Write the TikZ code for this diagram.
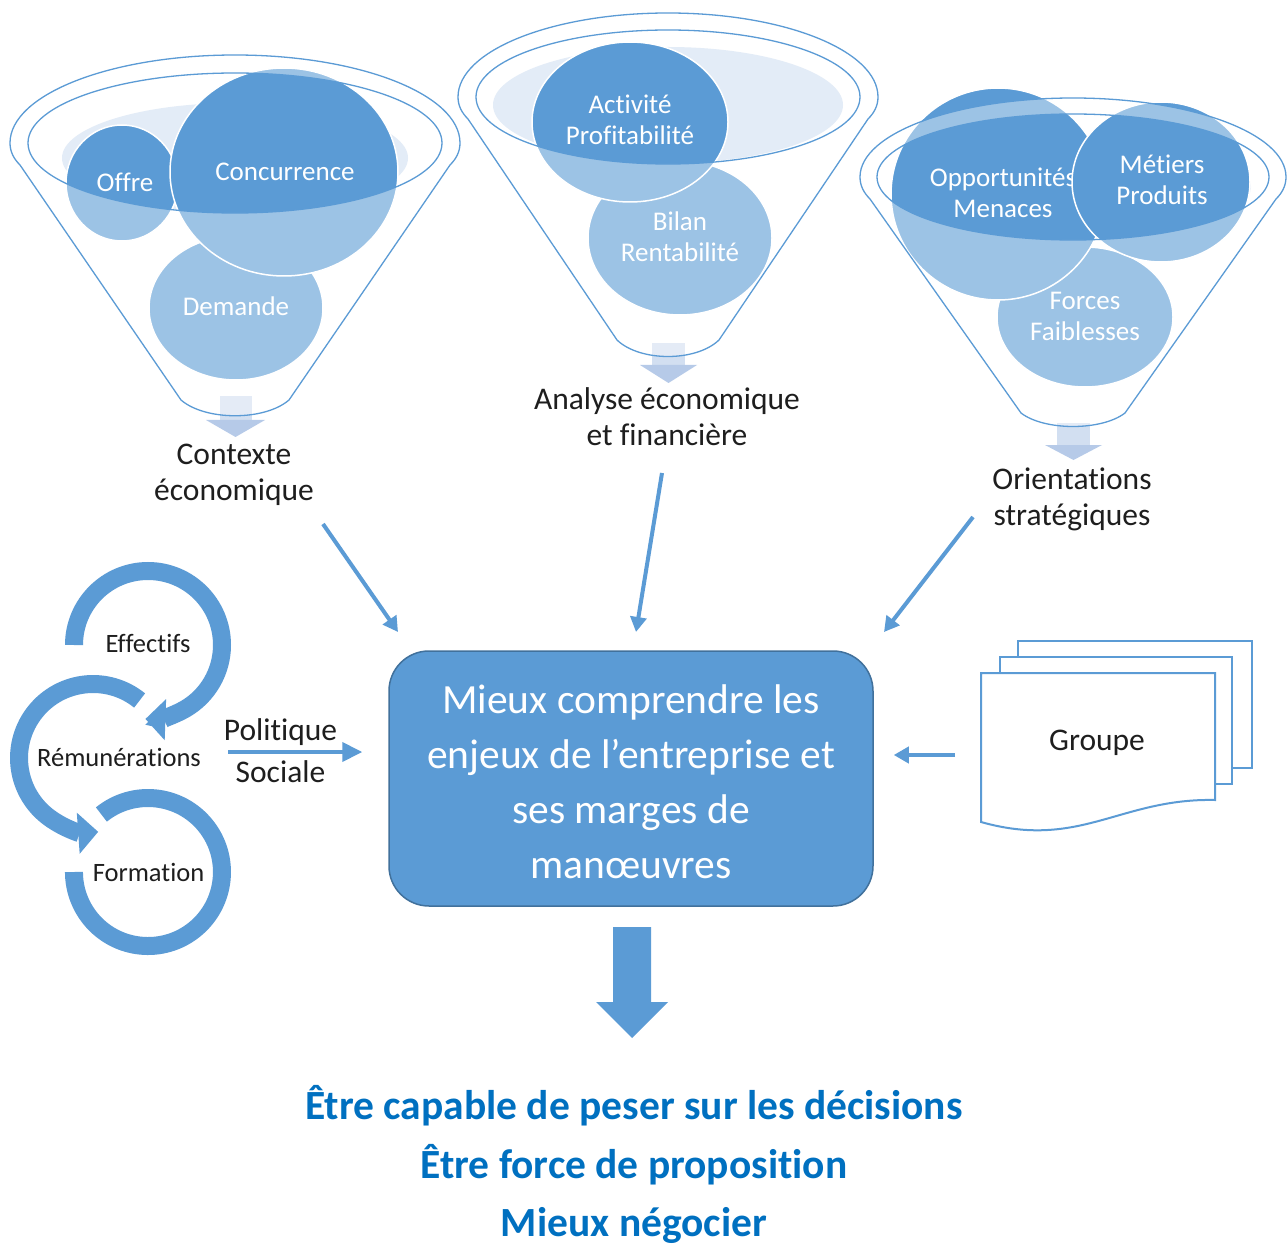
\documentclass[tikz,border=0pt]{standalone}
\usepackage{fontspec}
\setmainfont{Carlito}[Ligatures=NoCommon]
\usetikzlibrary{arrows.meta}
\definecolor{blueA}{HTML}{5B9BD5}
\definecolor{blueB}{HTML}{41719C}
\definecolor{paleA}{HTML}{E3ECF7}
\definecolor{arrS}{HTML}{D2DFF1}
\definecolor{arrH}{HTML}{B6CAE8}
\definecolor{txtD}{HTML}{1E1E1E}
\definecolor{txtB}{HTML}{0070C0}
% funnel silhouette: cx cy rx ry bw ly ctrl
\newcommand\funnelshape[7]{%
 ({#1-#3},#2) arc[start angle=180,end angle=0,x radius=#3pt,y radius=#4pt]
 .. controls ({#1+#3},{#2+9}) and ({#1+#3-4},{#2+16}) .. ({#1+#3-10},{#2+22})
 -- ({#1+#5},#6) .. controls ({#1+#5*0.55},#7) and ({#1-#5*0.55},#7) .. ({#1-#5},#6)
 -- ({#1-#3+10},{#2+22}) .. controls ({#1-#3+4},{#2+16}) and ({#1-#3},{#2+9}) .. ({#1-#3},#2)}
\begin{document}
\begin{tikzpicture}[x=1pt,y=-1pt,
  fline/.style={draw=blueA, line width=1.3pt},
  bubble/.style={fill=blueA, draw=white, line width=1.5pt},
  veil/.style={fill=white, fill opacity=0.4, even odd rule},
  btxt/.style={text=white, font=\fontsize{27}{31}\selectfont, align=center, inner sep=0pt, yshift=-3pt},
  ltxt/.style={text=txtD, font=\fontsize{31.5}{36}\selectfont, align=center, inner sep=0pt, yshift=-3.5pt},
  ctxt/.style={text=txtD, font=\fontsize{26.5}{30}\selectfont, inner sep=0pt, anchor=base, yshift=-3pt},
  conn/.style={draw=blueA, line width=4pt, -{Triangle[width=16pt,length=15pt]}},
  ring/.style={draw=blueA, line width=18pt},
  ringarrow/.style={draw=blueA, line width=18pt, -{Triangle[width=40pt,length=20pt]}},
  pale/.style={fill=paleA},
  doc/.style={draw=blueA, line width=2pt, fill=white},
  goal/.style={text=txtB, font=\bfseries\fontsize{41.5}{50}\selectfont, inner sep=0pt, anchor=base, yshift=-5pt}
]
\useasboundingbox[fill=white] (0,0) rectangle (1288,1246);

% ---------- small pale arrows under funnels ----------
\fill[arrS] (220,396) rectangle (252,420);
\fill[arrH] (206,420) -- (265,420) -- (235.5,437) -- cycle;
\fill[arrS] (652,343) rectangle (685,365);
\fill[arrH] (640,365) -- (697,365) -- (668.5,383) -- cycle;
\fill[arrS] (1057,423) rectangle (1090,445);
\fill[arrH] (1045,445) -- (1102,445) -- (1073.5,460) -- cycle;

% ---------- funnel 1 ----------
\fill[pale] (235,158) ellipse[x radius=173pt, y radius=55pt];
\filldraw[bubble] (236,308) ellipse[x radius=87pt, y radius=72pt];
\filldraw[bubble] (122,183) ellipse[x radius=56pt, y radius=58pt];
\filldraw[bubble] (284,172) ellipse[x radius=114pt, y radius=104pt];
\fill[veil] \funnelshape{235}{143}{225}{88}{54}{400}{421} (235,143) ellipse[x radius=207pt, y radius=70pt];
\draw[fline] \funnelshape{235}{143}{225}{88}{54}{400}{421};
\draw[fline] (235,143) ellipse[x radius=207pt, y radius=70pt];
\node[btxt, anchor=base] (offre) at (125,188.3) {Offre};
\node[btxt, anchor=base] (conc) at (285,177.3) {Concurrence};
\node[btxt, anchor=base] (dem) at (236,312.3) {Demande};

% ---------- funnel 2 ----------
\fill[pale] (668,105) ellipse[x radius=175pt, y radius=58pt];
\filldraw[bubble] (680,238) ellipse[x radius=92pt, y radius=77pt];
\filldraw[bubble] (630,122) ellipse[x radius=98pt, y radius=80pt];
\fill[veil] \funnelshape{668}{97}{210}{84}{51}{340}{362} (668,97) ellipse[x radius=192pt, y radius=67pt];
\draw[fline] \funnelshape{668}{97}{210}{84}{51}{340}{362};
\draw[fline] (668,97) ellipse[x radius=192pt, y radius=67pt];
\node[btxt] (act) at (630,117) {Activité\\Profitabilité};
\node[btxt] (bil) at (680,234) {Bilan\\Rentabilité};

% ---------- funnel 3 ----------
\fill[pale] (1073,187) ellipse[x radius=178pt, y radius=52pt];
\filldraw[bubble] (1085,317) ellipse[x radius=88pt, y radius=70pt];
\filldraw[bubble] (998,194) ellipse[x radius=107pt, y radius=106pt];
\node[btxt] (opp) at (1003,190) {Opportunités\\Menaces};
\filldraw[bubble] (1161,182) ellipse[x radius=89pt, y radius=80pt];
\fill[veil] \funnelshape{1073}{177}{213}{79}{52}{413}{431} (1073,177) ellipse[x radius=196pt, y radius=63pt];
\draw[fline] \funnelshape{1073}{177}{213}{79}{52}{413}{431};
\draw[fline] (1073,177) ellipse[x radius=196pt, y radius=63pt];
\node[btxt] (met) at (1162,177) {Métiers\\Produits};
\node[btxt] (forc) at (1085,313) {Forces\\Faiblesses};

% ---------- funnel outputs ----------
\node[ltxt] (ctx) at (234,471) {Contexte\\économique};
\node[ltxt] (ana) at (667,413) {Analyse économique\\et financière};
\node[ltxt] (ori) at (1072,496) {Orientations\\stratégiques};

% ---------- central box ----------
\node[draw=blueB, fill=blueA, rounded corners=40pt, minimum width=484pt, minimum height=255pt,
      line width=1.5pt, inner sep=0pt] (main) at (631,778.5) {};
\node[text=white, align=center, inner sep=0pt, font=\fontsize{41.5}{55}\selectfont]
      (maintxt) at (631,781.5)
      {Mieux comprendre les\\enjeux de l’entreprise et\\ses marges de\\manœuvres};

\coordinate (ctxA) at (323,524);
\coordinate (ctxB) at (398,632);
\coordinate (anaA) at (662,473);
\coordinate (anaB) at (636,632);
\coordinate (oriA) at (973,517);
\coordinate (oriB) at (884,632);
\draw[conn] (ctxA) -- (ctxB);
\draw[conn] (anaA) -- (anaB);
\draw[conn] (oriA) -- (oriB);

% ---------- Groupe ----------
\filldraw[doc] (1018,641) rectangle (1252,768);
\filldraw[doc] (1000,657) rectangle (1232,784);
\filldraw[doc] (981,673) -- (1215,673) -- (1215,800) .. controls (1120,798) and (1080,850) .. (981,822) -- cycle;
\node[ltxt, anchor=base] (grp) at (1097,747.3) {Groupe};
\coordinate (grpA) at (955,755);
\draw[conn] (grpA) -- ([xshift=20pt]grpA -| main.east);

% ---------- social cycle ----------
\draw[ring] (101.4,814.5) arc[start angle=129, end angle=-180, radius=74pt];
\draw[ringarrow] (139.6,700.5) arc[start angle=51, end angle=274, radius=74pt];
\draw[ringarrow] (74,645) arc[start angle=180, end angle=-92, radius=74pt];
\node[ctxt] (eff) at (148,649.2) {Effectifs};
\node[ctxt] (rem) at (119,763.2) {Rémunérations};
\node[ctxt] (form) at (148.5,878.2) {Formation};
\node[ltxt, anchor=base] (pol) at (280.5,737.3) {Politique};
\node[ltxt, anchor=base] (soc) at (280.5,779.3) {Sociale};
\coordinate (polA) at (228,752);
\draw[draw=blueA, line width=4pt, -{Triangle[width=19pt,length=20pt]}] (polA) -- ([xshift=-26pt]polA -| main.west);

% ---------- result ----------
\fill[blueA] (613,927) -- (651,927) -- (651,1002) -- (668,1002) -- (632,1038) -- (596,1002) -- (613,1002) -- cycle;
\node[goal] (g1) at (634,1114.7) {Être capable de peser sur les décisions};
\node[goal] (g2) at (634,1173.7) {Être force de proposition};
\node[goal] (g3) at (634,1231.5) {Mieux négocier};
\end{tikzpicture}
\end{document}
